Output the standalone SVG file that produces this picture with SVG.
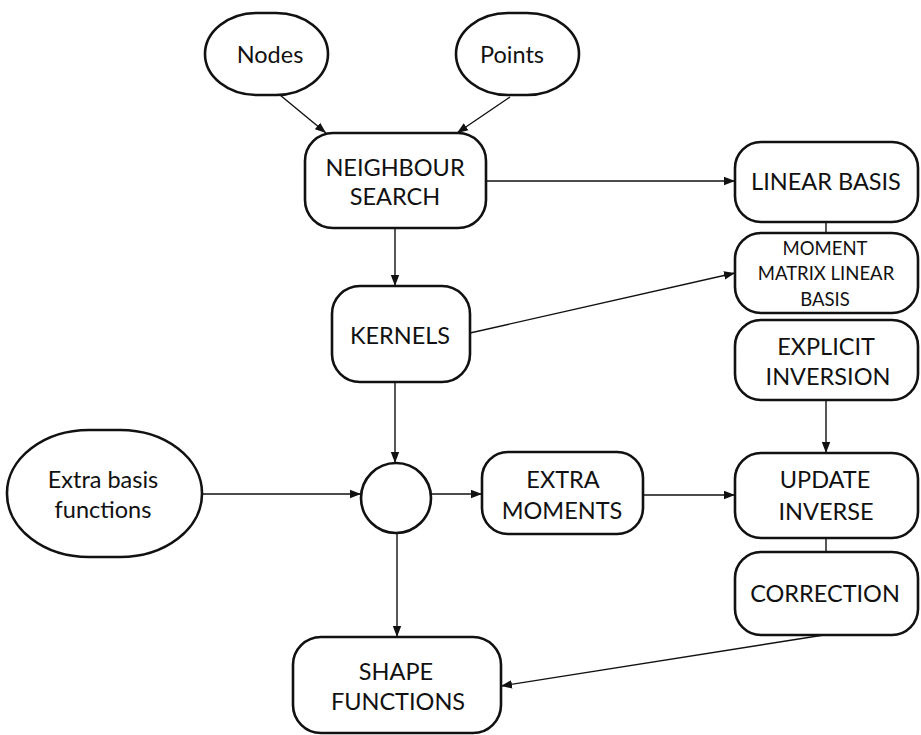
<svg xmlns="http://www.w3.org/2000/svg" width="921" height="735" viewBox="0 0 921 735">
<defs>
<marker id="ah" markerUnits="userSpaceOnUse" markerWidth="12" markerHeight="10" refX="11" refY="5" orient="auto">
<path d="M0,0.8 L11,5 L0,9.2 Z" fill="#111"/>
</marker>
<style>
.n{fill:#fff;stroke:#111;stroke-width:2.6}
.t{font-family:Lato,"Open Sans","Liberation Sans",sans-serif;font-size:23.5px;fill:#111;text-anchor:middle}
.s{font-size:18.5px}
.c{stroke:#111;stroke-width:1.4;fill:none}
.a{marker-end:url(#ah)}
</style>
</defs>
<rect width="921" height="735" fill="#fff"/>
<g id="connectors">
<line class="c a" x1="280" y1="95" x2="326" y2="133"/>
<line class="c a" x1="510" y1="97" x2="457" y2="133"/>
<line class="c a" x1="486" y1="181" x2="735" y2="181"/>
<line class="c" x1="826" y1="222" x2="826" y2="233"/>
<line class="c a" x1="395" y1="228" x2="395" y2="286"/>
<line class="c a" x1="470" y1="333" x2="735" y2="273"/>
<line class="c a" x1="395" y1="382" x2="395" y2="463"/>
<line class="c a" x1="202" y1="494" x2="361" y2="494"/>
<line class="c a" x1="431" y1="494" x2="482" y2="494"/>
<line class="c a" x1="643" y1="495" x2="735" y2="495"/>
<line class="c a" x1="826" y1="400" x2="826" y2="453"/>
<line class="c" x1="826" y1="538" x2="826" y2="552"/>
<line class="c a" x1="397" y1="533" x2="397" y2="637"/>
<line class="c a" x1="824" y1="635" x2="501" y2="686"/>
</g>
<g id="nodes-in">
<rect class="n" x="205" y="13" width="123" height="82" rx="52" ry="41"/>
<text class="t" x="270" y="63">Nodes</text>
</g>
<g id="points-in">
<rect class="n" x="456" y="13" width="123" height="82" rx="52" ry="41"/>
<text class="t" x="512" y="63">Points</text>
</g>
<g id="neighbour">
<rect class="n" x="305" y="133" width="181" height="95" rx="28"/>
<text class="t" x="395" y="176">NEIGHBOUR</text>
<text class="t" x="395" y="205">SEARCH</text>
</g>
<g id="linear">
<rect class="n" x="735" y="142" width="183" height="80" rx="26"/>
<text class="t" x="826" y="190">LINEAR BASIS</text>
</g>
<g id="moment">
<rect class="n" x="735" y="233" width="183" height="80" rx="26"/>
<text class="t s" x="825" y="255">MOMENT</text>
<text class="t s" x="826" y="280">MATRIX LINEAR</text>
<text class="t s" x="825" y="306">BASIS</text>
</g>
<g id="explicit">
<rect class="n" x="735" y="320" width="183" height="80" rx="26"/>
<text class="t" x="826" y="355">EXPLICIT</text>
<text class="t" x="828" y="385">INVERSION</text>
</g>
<g id="kernels">
<rect class="n" x="332" y="286" width="138" height="96" rx="28"/>
<text class="t" x="400" y="344">KERNELS</text>
</g>
<g id="extra-basis">
<rect class="n" x="7" y="430" width="195" height="127" rx="82" ry="63"/>
<text class="t" x="103" y="488">Extra basis</text>
<text class="t" x="103" y="518">functions</text>
</g>
<g id="junction">
<ellipse class="n" cx="396" cy="498" rx="35" ry="35"/>
</g>
<g id="extra-moments">
<rect class="n" x="482" y="452" width="161" height="82" rx="26"/>
<text class="t" x="563" y="488">EXTRA</text>
<text class="t" x="562" y="519">MOMENTS</text>
</g>
<g id="update">
<rect class="n" x="735" y="453" width="183" height="85" rx="26"/>
<text class="t" x="825" y="488">UPDATE</text>
<text class="t" x="826" y="520">INVERSE</text>
</g>
<g id="correction">
<rect class="n" x="735" y="552" width="183" height="83" rx="26"/>
<text class="t" x="825" y="602">CORRECTION</text>
</g>
<g id="shape">
<rect class="n" x="293" y="637" width="208" height="96" rx="28"/>
<text class="t" x="396" y="680">SHAPE</text>
<text class="t" x="398" y="710">FUNCTIONS</text>
</g>
</svg>
